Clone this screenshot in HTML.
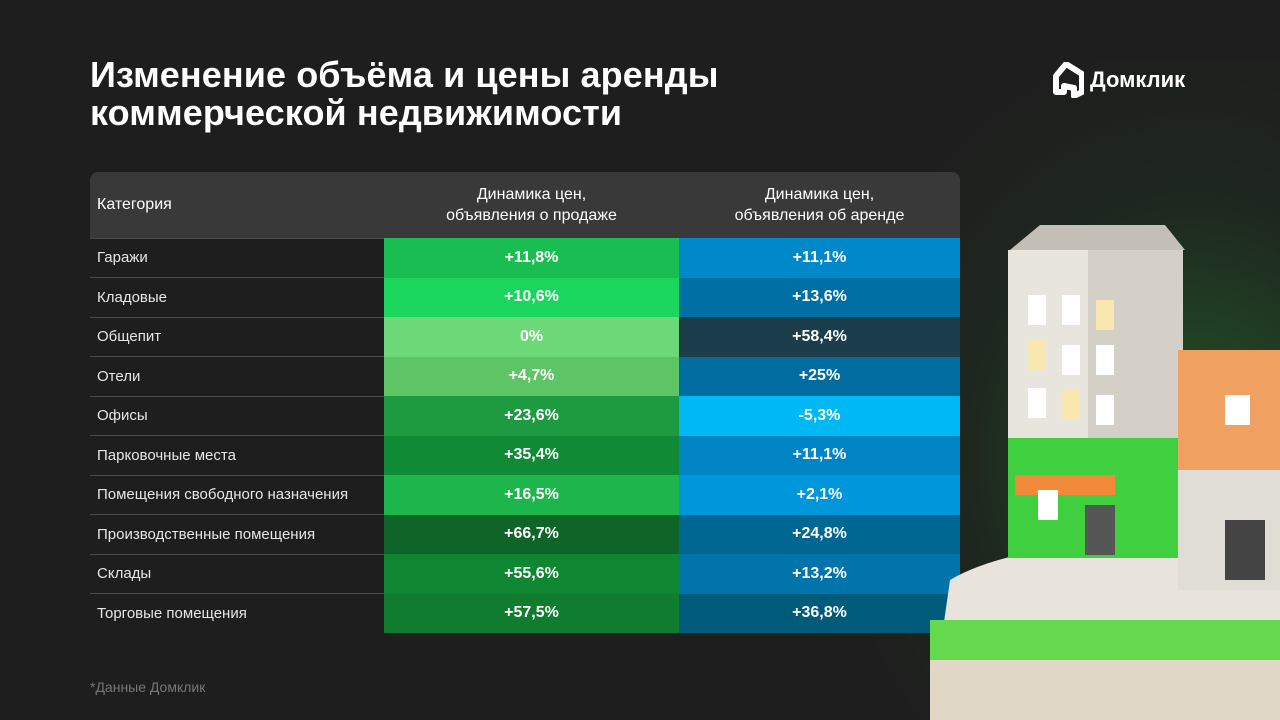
<!DOCTYPE html>
<html><head><meta charset="utf-8"><style>
*{margin:0;padding:0;box-sizing:border-box}
html,body{width:1280px;height:720px;overflow:hidden}
body{background:#1e1e1e;font-family:"Liberation Sans",sans-serif;position:relative;color:#fff}
.glow{position:absolute;left:850px;top:60px;width:430px;height:660px;background:radial-gradient(ellipse at 80% 60%,rgba(40,140,50,.5),rgba(30,80,35,.2) 45%,rgba(30,30,30,0) 75%)}
h1{position:absolute;left:90px;top:56px;font-size:36px;line-height:38px;font-weight:bold;letter-spacing:0.1px}
.logo{position:absolute;left:1048px;top:62px;font-size:22px;font-weight:bold;display:flex;align-items:center;gap:6px}
table{position:absolute;left:90px;top:172px;width:870px;border-collapse:collapse;font-size:15px}
th{height:66px;background:#393939;font-weight:normal;font-size:16px;line-height:21px}
th:first-child{text-align:left;padding-left:7px;border-top-left-radius:8px;width:294px}
th:last-child{border-top-right-radius:8px;width:281px}
td{height:39.5px;border-top:1px solid #4a4a4a}
td:first-child{padding-left:7px;color:#e6e6e6}
td.v{text-align:center;font-weight:bold;font-size:16px;border-top:none}
.note{position:absolute;left:90px;top:679px;font-size:14px;color:#777}
</style></head><body>
<div class="glow"></div>
<h1>Изменение объёма и цены аренды<br>коммерческой недвижимости</h1>
<div class="logo"><svg width="36" height="36" viewBox="0 0 36 36"><path d="M18 2 L34 12 V30 L26 34 V26 L16 24 V30 H8 V14 Z" fill="none" stroke="#fff" stroke-width="6" stroke-linejoin="round"/></svg>Домклик</div>
<table>
<tr><th>Категория</th><th>Динамика цен,<br>объявления о продаже</th><th>Динамика цен,<br>объявления об аренде</th></tr>
<tr><td>Гаражи</td><td class="v" style="background:#1abd51">+11,8%</td><td class="v" style="background:#0088c8">+11,1%</td></tr>
<tr><td>Кладовые</td><td class="v" style="background:#1ad65c">+10,6%</td><td class="v" style="background:#006fa3">+13,6%</td></tr>
<tr><td>Общепит</td><td class="v" style="background:#6dd878">0%</td><td class="v" style="background:#1c3d4b">+58,4%</td></tr>
<tr><td>Отели</td><td class="v" style="background:#5ec566">+4,7%</td><td class="v" style="background:#006c9f">+25%</td></tr>
<tr><td>Офисы</td><td class="v" style="background:#1e9a40">+23,6%</td><td class="v" style="background:#00b8f4">-5,3%</td></tr>
<tr><td>Парковочные места</td><td class="v" style="background:#108a34">+35,4%</td><td class="v" style="background:#0084c4">+11,1%</td></tr>
<tr><td>Помещения свободного назначения</td><td class="v" style="background:#1db64c">+16,5%</td><td class="v" style="background:#0096dc">+2,1%</td></tr>
<tr><td>Производственные помещения</td><td class="v" style="background:#0f6427">+66,7%</td><td class="v" style="background:#006692">+24,8%</td></tr>
<tr><td>Склады</td><td class="v" style="background:#0e8632">+55,6%</td><td class="v" style="background:#0074ab">+13,2%</td></tr>
<tr><td>Торговые помещения</td><td class="v" style="background:#0f7c30">+57,5%</td><td class="v" style="background:#005a7a">+36,8%</td></tr>
</table>
<svg style="position:absolute;left:920px;top:220px" width="360" height="500">
<path d="M30 360 Q80 330 200 320 L360 300 V500 H10 Z" fill="#e8e4dc"/>
<rect x="10" y="400" width="350" height="40" fill="#64d84f"/>
<rect x="10" y="440" width="350" height="60" fill="#e0d7c6"/>
<rect x="88" y="30" width="175" height="200" fill="#d4d0c8"/>
<rect x="88" y="30" width="80" height="200" fill="#e8e5de"/>
<polygon points="90,30 120,5 245,5 265,30" fill="#c4bfb6"/>
<rect x="88" y="218" width="175" height="120" fill="#3fcf3f"/>
<rect x="95" y="255" width="100" height="20" fill="#f08a3a"/>
<rect x="165" y="285" width="30" height="50" fill="#555"/>
<rect x="118" y="270" width="20" height="30" fill="#fff"/>
<rect x="108" y="75" width="18" height="30" fill="#fff"/><rect x="142" y="75" width="18" height="30" fill="#fff"/><rect x="176" y="80" width="18" height="30" fill="#f8e8b0"/>
<rect x="108" y="120" width="18" height="30" fill="#f8e8b0"/><rect x="142" y="125" width="18" height="30" fill="#fff"/><rect x="176" y="125" width="18" height="30" fill="#fff"/>
<rect x="108" y="168" width="18" height="30" fill="#fff"/><rect x="142" y="170" width="18" height="30" fill="#f8e8b0"/><rect x="176" y="175" width="18" height="30" fill="#fff"/>
<rect x="258" y="130" width="102" height="120" fill="#f0a060"/>
<rect x="258" y="250" width="102" height="120" fill="#e0ddd6"/>
<rect x="305" y="175" width="25" height="30" fill="#fff"/><rect x="305" y="300" width="40" height="60" fill="#444"/>
</svg>
<div class="note">*Данные Домклик</div>
</body></html>
